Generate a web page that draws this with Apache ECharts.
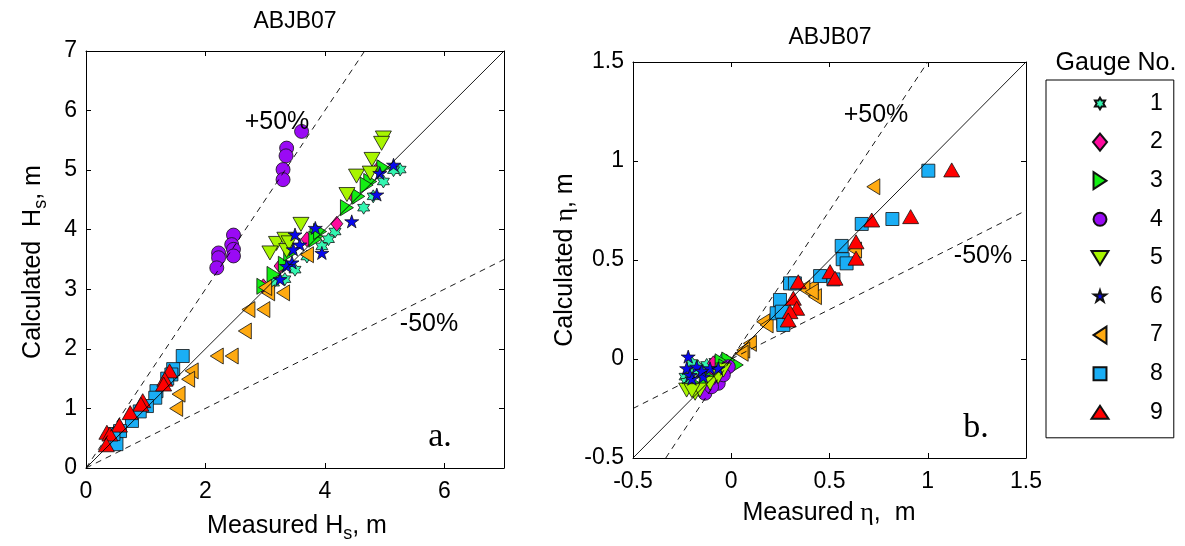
<!DOCTYPE html>
<html>
<head>
<meta charset="utf-8">
<script src="https://cdn.jsdelivr.net/npm/echarts@6/dist/echarts.min.js"></script>
<style>
html,body{margin:0;padding:0;background:#fff;}
#c{width:1185px;height:546px;}
</style>
</head>
<body>
<div id="c"></div>
<script>
// ---------------- DATA ----------------
const gaugeNames = ['1','2','3','4','5','6','7','8','9'];
const gaugeColors = ['#33F5B0','#FF0A9E','#14EE14','#9A0AF5','#A8F500','#0808EE','#FFAA11','#1AAEF5','#FF0000'];

// Panel a: [measured Hs, calculated Hs] (m)
const hs1 = [[5.26,5.01],[4.98,4.81],[4.81,4.56],[4.65,4.37],[4.17,3.97],[4.06,3.84],[3.95,3.72],[3.50,3.33],[3.33,3.17],[3.14,3.11],[5.15,5.00],[3.70,3.55]];
const hs2 = [[4.48,4.56],[3.25,3.39],[4.90,5.04],[3.70,3.84],[2.97,3.05],[4.20,4.10]];
const hs3 = [[4.98,5.04],[4.76,4.81],[4.56,4.56],[4.37,4.37],[3.86,3.89],[3.84,3.84],[3.33,3.42],[3.14,3.25],[2.97,3.05],[3.92,3.97],[3.42,3.61],[4.70,4.75]];
const hs4 = [[3.61,5.65],[3.36,5.37],[3.35,5.24],[3.30,5.01],[3.30,4.84],[2.47,3.91],[2.44,3.75],[2.47,3.67],[2.47,3.56],[2.22,3.61],[2.22,3.53],[2.19,3.36]];
const hs5 = [[4.98,5.54],[4.95,5.45],[4.79,5.18],[4.53,4.90],[4.37,4.59],[3.60,4.09],[3.19,3.77],[3.08,3.61],[3.33,3.84],[3.36,3.65],[4.76,4.95],[3.40,3.78]];
const hs6 = [[5.15,5.09],[4.92,4.95],[4.87,4.59],[4.45,4.14],[3.95,3.61],[3.84,4.03],[3.50,3.92],[3.58,3.75],[3.47,3.67],[3.45,3.45],[3.36,3.39],[3.25,3.17]];
const hs7 = [[2.66,2.30],[2.44,1.88],[2.19,1.88],[1.77,1.63],[1.71,1.49],[1.55,1.24],[1.51,1.00],[3.30,2.94],[3.05,2.94],[2.97,2.66],[2.72,2.66],[3.70,3.58],[3.00,3.03]];
const hs8 = [[1.62,1.88],[1.46,1.66],[1.43,1.57],[1.18,1.29],[1.16,1.18],[1.02,1.04],[0.77,0.79],[0.57,0.62],[0.51,0.40],[0.46,0.57],[1.36,1.50],[0.90,0.95]];
const hs9 = [[1.40,1.63],[1.32,1.49],[1.30,1.41],[0.95,1.13],[0.92,1.07],[0.74,0.93],[0.56,0.72],[0.35,0.60],[0.40,0.57],[0.34,0.39]];

// Panel b: [measured eta, calculated eta] (m)
const eta1 = [[-0.168,-0.039],[-0.235,-0.089],[-0.227,-0.115],[-0.125,-0.030],[-0.083,-0.014],[-0.049,-0.005],[-0.190,-0.060],[-0.140,-0.070],[-0.200,-0.020]];
const eta2 = [[-0.023,-0.014],[-0.091,-0.022],[-0.060,-0.050],[-0.120,-0.080]];
const eta3 = [[0.028,-0.030],[-0.015,-0.005],[-0.049,-0.014],[-0.176,-0.131],[-0.100,-0.098],[-0.030,-0.040],[-0.130,-0.110]];
const eta4 = [[-0.134,-0.173],[-0.066,-0.123],[-0.015,-0.039],[-0.100,-0.140],[-0.040,-0.080]];
const eta5 = [[-0.227,-0.157],[-0.184,-0.173],[-0.159,-0.157],[-0.108,-0.123],[-0.066,-0.089],[-0.040,-0.056],[-0.200,-0.160]];
const eta6 = [[-0.219,0.012],[-0.227,-0.047],[-0.210,-0.081],[-0.142,-0.089],[-0.108,-0.047],[-0.066,-0.047],[-0.176,-0.039],[-0.150,-0.060],[-0.200,-0.100]];
const eta7 = [[0.723,0.870],[0.630,0.550],[0.410,0.365],[0.426,0.315],[0.367,0.357],[0.163,0.188],[0.180,0.172],[0.095,0.079],[0.061,0.045],[0.053,0.029],[0.410,0.340]];
const eta8 = [[1.003,0.951],[0.820,0.707],[0.664,0.682],[0.562,0.571],[0.567,0.504],[0.587,0.483],[0.452,0.419],[0.520,0.402],[0.299,0.382],[0.248,0.298],[0.231,0.231],[0.265,0.188],[0.257,0.239],[0.265,0.172],[0.324,0.382]];
const eta9 = [[1.122,0.955],[0.913,0.719],[0.715,0.702],[0.635,0.592],[0.635,0.509],[0.503,0.441],[0.528,0.408],[0.341,0.390],[0.316,0.307],[0.333,0.256],[0.299,0.239],[0.290,0.197]];

// Axis ranges and tick labels
const hsRange = [0, 7];
const hsXStep = 2;
const hsYStep = 1;
const hsXTickLabels = ['0', '2', '4', '6'];
const etaRange = [-0.5, 1.5];
const etaStep = 0.5;
// reference lines: 1:1, +50%, -50%
const refRatios = [1, 1.5, 0.5];

// ---------------- STYLE ----------------
const FONT = '"Liberation Sans", Arial, Helvetica, sans-serif';
const hsSets = [hs1,hs2,hs3,hs4,hs5,hs6,hs7,hs8,hs9];
const etaSets = [eta1,eta2,eta3,eta4,eta5,eta6,eta7,eta8,eta9];

const hexPath = 'path://M10,0 L12.89,5 L18.66,5 L15.77,10 L18.66,15 L12.89,15 L10,20 L7.11,15 L1.34,15 L4.23,10 L1.34,5 L7.11,5 Z';
const starPath = 'path://M10,0 L12.245,6.91 L19.51,6.91 L13.633,11.18 L15.878,18.09 L10,13.82 L4.122,18.09 L6.367,11.18 L0.49,6.91 L7.755,6.91 Z';
const symbols = [
  hexPath,
  'path://M10,0 L20,10 L10,20 L0,10 Z',
  'path://M0,0 L20,10 L0,20 Z',
  'circle',
  'path://M0,0 L20,0 L10,20 Z',
  starPath,
  'path://M20,0 L0,10 L20,20 Z',
  'rect',
  'path://M10,0 L20,20 L0,20 Z'
];
const symbolSizes = [[12,13],[12,15],[13,16],14,[16,14],[14,13],[13,16],13,[16,14]];

const LM = 'path://M0,0 M20,20 ';
const legendIcons = [
  LM + 'M10,3.5 L11.88,6.75 L15.63,6.75 L13.75,10 L15.63,13.25 L11.88,13.25 L10,16.5 L8.12,13.25 L4.37,13.25 L6.25,10 L4.37,6.75 L8.12,6.75 Z',
  LM + 'M10,0.55 L17.8,10 L10,19.45 L2.2,10 Z',
  LM + 'M2.8,0.55 L17.2,10 L2.8,19.45 Z',
  LM + 'M2.8,10 A7.2,7.2 0 1,0 17.2,10 A7.2,7.2 0 1,0 2.8,10 Z',
  LM + 'M0.55,2.2 L19.45,2.2 L10,17.8 Z',
  LM + 'M10,3 L11.57,7.84 L16.66,7.84 L12.54,10.83 L14.11,15.66 L10,12.67 L5.89,15.66 L7.46,10.83 L3.34,7.84 L8.43,7.84 Z',
  LM + 'M17.2,0.55 L2.8,10 L17.2,19.45 Z',
  LM + 'M2.8,2.8 L17.2,2.8 L17.2,17.2 L2.8,17.2 Z',
  LM + 'M10,2.8 L19.45,17.2 L0.55,17.2 Z'
];

function makeAxis(dim, pos, gridIndex, range, step, showLabel, extraLabel) {
  return {
    type: 'value', gridIndex: gridIndex, position: pos,
    min: range[0], max: range[1], interval: step,
    axisLine: { show: true, onZero: false, lineStyle: { color: '#000', width: 1 } },
    axisTick: { show: true, inside: true, length: 5, lineStyle: { color: '#000', width: 1 } },
    axisLabel: Object.assign({ show: showLabel, fontSize: 23, color: '#000', fontFamily: FONT,
      margin: dim === 'x' ? 12 : 9 }, extraLabel || {}),
    splitLine: { show: false }
  };
}

function refLine(range, r, gx, gy, dashed) {
  const xs = Math.max(range[0], range[0] / r);
  const xe = Math.min(range[1], range[1] / r);
  return {
    type: 'line', xAxisIndex: gx, yAxisIndex: gy, z: 5, silent: true,
    symbol: 'none', animation: false,
    data: [[xs, r * xs], [xe, r * xe]],
    lineStyle: { color: '#000', width: 0.9, type: dashed ? [6, 5] : 'solid' }
  };
}

const series = [];
gaugeNames.forEach((n, i) => {
  const common = {
    type: 'scatter', name: n, symbol: symbols[i], symbolSize: symbolSizes[i],
    symbolKeepAspect: false, animation: false,
    itemStyle: { color: gaugeColors[i], borderColor: '#111', borderWidth: 0.8, opacity: 1 },
    emphasis: { disabled: true }
  };
  series.push(Object.assign({}, common, { xAxisIndex: 0, yAxisIndex: 0, data: hsSets[i] }));
  series.push(Object.assign({}, common, { xAxisIndex: 1, yAxisIndex: 1, data: etaSets[i] }));
});
refRatios.forEach((r, k) => {
  series.push(refLine(hsRange, r, 0, 0, k > 0));
  series.push(refLine(etaRange, r, 1, 1, k > 0));
});

function txt(x, y, text, size, extra) {
  return Object.assign({
    type: 'text', x: x, y: y, silent: true, z: 100,
    style: Object.assign({ text: text, fontSize: size, fontFamily: FONT, fill: '#000',
      align: 'center', verticalAlign: 'middle', textAlign: 'center', textVerticalAlign: 'middle' },
      (extra && extra.style) || {})
  }, extra && extra.rotation !== undefined ? { rotation: extra.rotation } : {});
}
const subRich = { s: { fontSize: 18, fontFamily: FONT, padding: [17, 0, 0, 0] },
                  e: { fontSize: 26, fontFamily: '"Liberation Serif","DejaVu Serif", serif' } };

const option = {
  backgroundColor: '#fff',
  animation: false,
  grid: [
    { left: 86, top: 51, width: 418, height: 417, outerBoundsMode: 'none', containLabel: false },
    { left: 633, top: 62, width: 393, height: 396, outerBoundsMode: 'none', containLabel: false }
  ],
  xAxis: [
    makeAxis('x', 'bottom', 0, hsRange, hsXStep, true, {
      showMaxLabel: false,
      formatter: function (v) { return hsXTickLabels.indexOf(String(v)) >= 0 ? String(v) : ''; }
    }),
    makeAxis('x', 'bottom', 1, etaRange, etaStep, true),
    makeAxis('x', 'top', 0, hsRange, hsXStep, false),
    makeAxis('x', 'top', 1, etaRange, etaStep, false)
  ],
  yAxis: [
    makeAxis('y', 'left', 0, hsRange, hsYStep, true),
    makeAxis('y', 'left', 1, etaRange, etaStep, true),
    makeAxis('y', 'right', 0, hsRange, hsYStep, false),
    makeAxis('y', 'right', 1, etaRange, etaStep, false)
  ],
  legend: {
    show: true, orient: 'vertical', left: 1046, top: 80,
    padding: [12, 11, 14, 44],
    borderColor: '#000', borderWidth: 1, backgroundColor: '#fff',
    itemWidth: 18, itemHeight: 18, itemGap: 15.6,
    selectedMode: false,
    textStyle: { fontSize: 23, fontFamily: FONT, color: '#000', lineHeight: 18, padding: [0, 0, 0, 36] },
    data: gaugeNames.map((n, i) => ({ name: n, icon: legendIcons[i] }))
  },
  graphic: [
    txt(295, 22, 'ABJB07', 23),
    txt(830, 38, 'ABJB07', 23),
    txt(277, 122, '+50%', 25),
    txt(429, 324, '-50%', 25),
    txt(876, 115, '+50%', 25),
    txt(983, 256, '-50%', 25),
    txt(440, 437, 'a.', 34, { style: { fontFamily: '"Liberation Serif","Times New Roman", serif' } }),
    txt(976, 428, 'b.', 34, { style: { fontFamily: '"Liberation Serif","Times New Roman", serif' } }),
    txt(1116, 63, 'Gauge No.', 25),
    txt(297, 526, 'Measured H{s|s}, m', 25, { style: { rich: subRich } }),
    txt(33, 262, 'Calculated  H{s|s}, m', 25, { rotation: Math.PI / 2, style: { rich: subRich } }),
    txt(829, 513, 'Measured{e| η},  m', 25, { style: { rich: subRich } }),
    txt(565, 260, 'Calculated {e|η}, m', 25, { rotation: Math.PI / 2, style: { rich: subRich } })
  ],
  series: series
};

const chart = echarts.init(document.getElementById('c'), null, { renderer: 'canvas' });
chart.setOption(option);
</script>
</body>
</html>
